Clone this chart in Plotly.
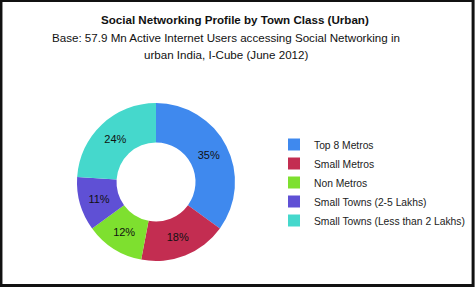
import plotly.graph_objects as go

labels = ["Top 8 Metros", "Small Metros", "Non Metros", "Small Towns (2-5 Lakhs)", "Small Towns (Less than 2 Lakhs)"]
values = [35, 18, 12, 11, 24]
colors = ["#3f89ee", "#c32d51", "#7ee02f", "#5f50d5", "#45d8cc"]

title_text = "Social Networking Profile by Town Class (Urban)"
subtitle_lines = ["Base: 57.9 Mn Active Internet Users accessing Social Networking in",
                  "urban India, I-Cube (June 2012)"]

W, H = 475, 287
cx, cy, r = 156, 182, 79

fig = go.Figure(go.Pie(
    labels=labels, values=values, hole=0.5, sort=False, direction="clockwise", rotation=0,
    marker=dict(colors=colors, line=dict(width=0)),
    texttemplate="%{value}%", textposition="inside", insidetextorientation="horizontal",
    textfont=dict(color="#111111", size=11, family="Liberation Sans, Arial"),
    domain=dict(x=[(cx - r) / W, (cx + r) / W], y=[(H - cy - r) / H, (H - cy + r) / H]),
    hoverinfo="label+value",
))

font = "Liberation Sans, Arial, sans-serif"
fig.update_layout(
    width=W, height=H, margin=dict(l=0, r=0, t=0, b=0, autoexpand=False),
    paper_bgcolor="white", plot_bgcolor="white",
    font=dict(family=font, color="#222222"),
    legend=dict(x=274 / W, y=1 - 130 / H, xanchor="left", yanchor="top",
                font=dict(size=10.3, color="#222222", family=font),
                itemwidth=30, tracegroupgap=0, bgcolor="rgba(0,0,0,0)"),
    annotations=[
        dict(text="<b>" + title_text + "</b>", x=235 / W, y=1 - 19 / H, xref="paper", yref="paper",
             showarrow=False, font=dict(size=11.6, color="#111111", family=font), xanchor="center", yanchor="middle"),
        dict(text=subtitle_lines[0], x=226 / W, y=1 - 37 / H, xref="paper", yref="paper",
             showarrow=False, font=dict(size=11.6, color="#111111", family=font), xanchor="center", yanchor="middle"),
        dict(text=subtitle_lines[1], x=226 / W, y=1 - 55 / H, xref="paper", yref="paper",
             showarrow=False, font=dict(size=11.6, color="#111111", family=font), xanchor="center", yanchor="middle"),
    ],
    shapes=[dict(type="rect", xref="paper", yref="paper", x0=0.002, x1=0.996, y0=0.005, y1=0.998,
                 line=dict(color="#111111", width=3))],
)

fig.write_html("out.html", config={"displayModeBar": False},
               post_script="document.body.style.margin='0';document.body.style.overflow='hidden';")
